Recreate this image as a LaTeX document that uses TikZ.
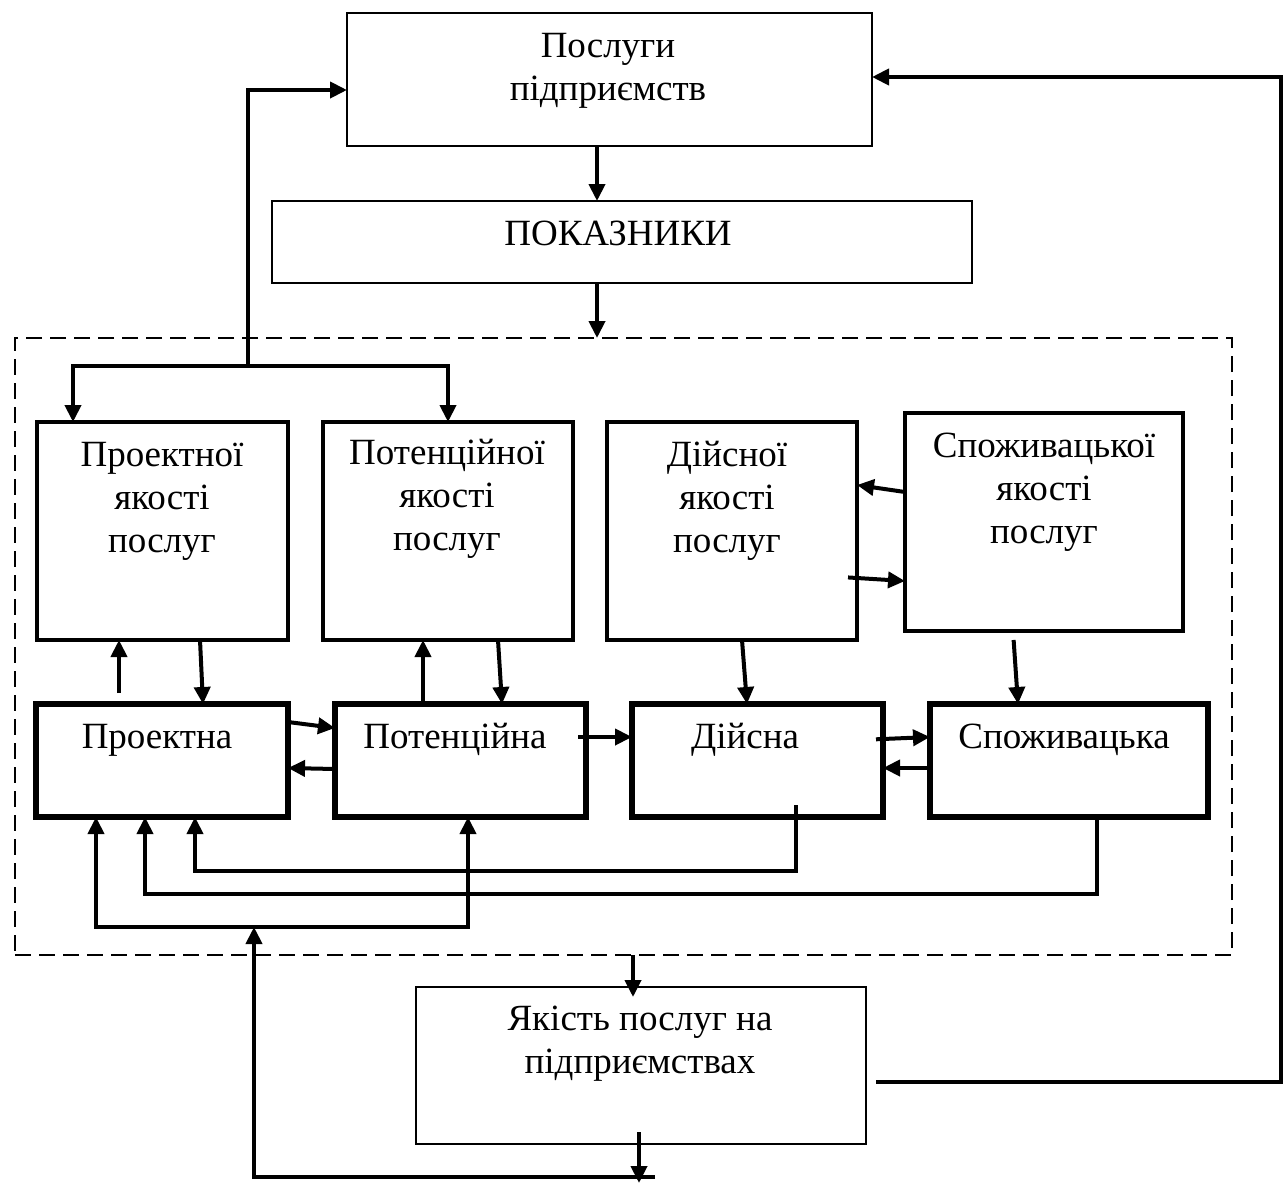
\documentclass[tikz,border=0pt]{standalone}
\usepackage{fontspec}
\setmainfont{Liberation Serif}
\usetikzlibrary{arrows.meta,calc}
\begin{document}
\begin{tikzpicture}[x=1pt,y=-1pt,
  box/.style={draw, rectangle, anchor=north west, inner sep=0pt, outer sep=0pt},
  thinbox/.style={box, line width=2pt},
  midbox/.style={box, line width=4pt},
  boldbox/.style={box, line width=5.5pt},
  lbl/.style={anchor=base, align=center, inner sep=0pt, font=\fontsize{37}{43}\selectfont},
  arr/.style={line width=4pt, -{Triangle[length=17pt,width=16pt]}},
  frameline/.style={draw, rectangle, anchor=north west, inner sep=0pt, outer sep=0pt,
                    line width=1.8pt, dash pattern=on 16pt off 8pt}]
\useasboundingbox (0,0) rectangle (1287,1183);
\fill[white] (0,0) rectangle (1287,1183);

% dashed frame around the quality levels
\node[frameline, minimum width=1217pt, minimum height=617pt] (frame) at (15,338) {};

% top blocks (multi-line labels are anchored at the baseline of their last line)
\node[thinbox, minimum width=525pt, minimum height=133pt] (T1) at (347,13) {};
\node[lbl] (T1t) at (608,100) {Послуги\\підприємств};
\node[thinbox, minimum width=700pt, minimum height=82pt] (P) at (272,201) {};
\node[lbl] (Pt) at (618,245) {ПОКАЗНИКИ};

% upper row: quality of services
\node[midbox, minimum width=251pt, minimum height=218pt] (B1) at (37,422) {};
\node[lbl] (B1t) at (162,552) {Проектної\\якості\\послуг};
\node[midbox, minimum width=250pt, minimum height=218pt] (B2) at (323,422) {};
\node[lbl] (B2t) at (447,550) {Потенційної\\якості\\послуг};
\node[midbox, minimum width=250pt, minimum height=218pt] (B3) at (607,422) {};
\node[lbl] (B3t) at (727,552) {Дійсної\\якості\\послуг};
\node[midbox, minimum width=278pt, minimum height=218pt] (B4) at (905,413) {};
\node[lbl] (B4t) at (1044,543) {Споживацької\\якості\\послуг};

% lower row: quality levels
\node[boldbox, minimum width=252pt, minimum height=113pt] (L1) at (36,704) {};
\node[lbl] (L1t) at (157,748) {Проектна};
\node[boldbox, minimum width=251pt, minimum height=113pt] (L2) at (335,704) {};
\node[lbl] (L2t) at (455,748) {Потенційна};
\node[boldbox, minimum width=251pt, minimum height=113pt] (L3) at (632,704) {};
\node[lbl] (L3t) at (745,748) {Дійсна};
\node[boldbox, minimum width=278pt, minimum height=113pt] (L4) at (930,704) {};
\node[lbl] (L4t) at (1064,748) {Споживацька};

% result block
\node[thinbox, minimum width=450pt, minimum height=157pt] (Y) at (416,987) {};
\node[lbl] (Yt) at (640,1073) {Якість послуг на\\підприємствах};

% main vertical flow
\draw[arr] (597,0 |- T1.south) -- (597,0 |- P.north);
\draw[arr] (597,0 |- P.south) -- (597,0 |- frame.north);
\draw[arr] (633,0 |- frame.south) -- ($(633,0 |- Y.north)+(0,10)$);

% feedback to the services block from the left branch
\coordinate (jn) at (248,366);
\draw[arr] (jn) |- (T1.west |- 0,90);
\draw[arr] (jn) -| (73,0 |- B1.north);
\draw[arr] (jn) -| (448,0 |- B2.north);

% feedback from the result block on the right
\draw[arr, shorten <=10pt] (Y.east |- 0,1082) -- (1281,1082) -- (1281,77) -- (T1.east |- 0,77);

% links between the rows
\draw[arr, shorten <=11pt] (119,0 |- L1.north) -- (119,0 |- B1.south);
\draw[arr] (200,0 |- B1.south) -- (203,0 |- L1.north);
\draw[arr] (423,0 |- L2.north) -- (423,0 |- B2.south);
\draw[arr] (498,0 |- B2.south) -- (502,0 |- L2.north);
\draw[arr] (742,0 |- B3.south) -- (747,0 |- L3.north);
\draw[arr, shorten <=9pt] (1013,0 |- B4.south) -- (1018,0 |- L4.north);

% links within the upper row
\draw[arr] (B4.west |- 0,492) -- (B3.east |- 0,485);
\draw[arr, shorten <=-9pt] (B3.east |- 0,578) -- (B4.west |- 0,581);

% links within the lower row
\draw[arr, shorten <=2pt] (L1.east |- 0,722) -- (L2.west |- 0,728);
\draw[arr] (L2.west |- 0,769) -- (L1.east |- 0,768);
\draw[arr, shorten <=-8pt] (L2.east |- 0,737) -- (L3.west |- 0,737);
\draw[arr, shorten <=-7pt] (L3.east |- 0,739) -- (L4.west |- 0,737);
\draw[arr] (L4.west |- 0,768) -- (L3.east |- 0,768);

% return lines under the lower row
\draw[arr] ($(796,0 |- L3.south)+(0,-12)$) -- (796,871) -- (195,871) -- (195,0 |- L1.south);
\draw[arr] (1097,0 |- L4.south) -- (1097,894) -- (145,894) -- (145,0 |- L1.south);
\coordinate (fb) at (254,927);
\draw[arr] (fb) -| (96,0 |- L1.south);
\draw[arr] (fb) -| (468,0 |- L2.south);

% outlet of the result block and its return loop
\draw[arr] ($(639,0 |- Y.south)+(0,-12)$) -- (639,1183);
\draw[arr] (655,1177) -- (254,1177) -- (fb);
\end{tikzpicture}
\end{document}
